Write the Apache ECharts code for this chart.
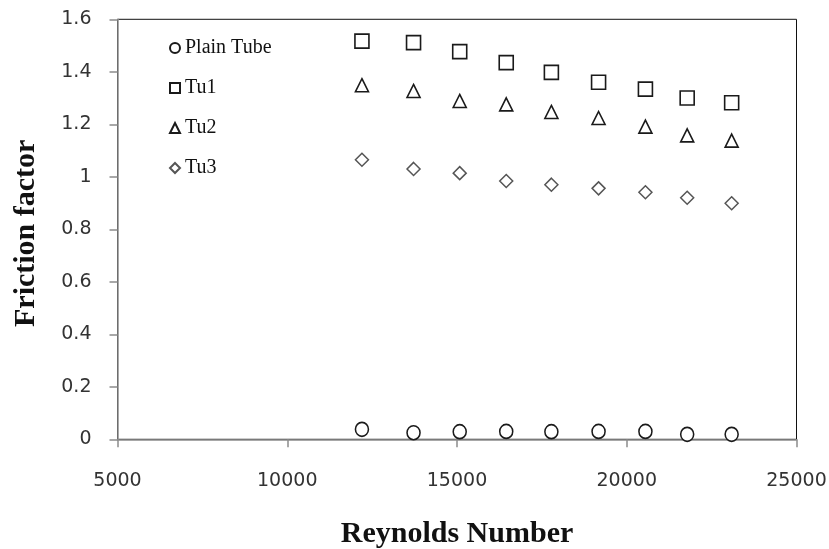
<!DOCTYPE html>
<html>
<head>
<meta charset="utf-8">
<script src="https://cdn.jsdelivr.net/npm/echarts@6/dist/echarts.min.js"></script>
<style>
  html, body { margin: 0; padding: 0; background: #fff; }
  #chart { width: 829px; height: 549px; }
</style>
</head>
<body>
<div id="chart"></div>
<script>
// Reynolds numbers of the measured runs
const reynolds = [12200, 13720, 15080, 16450, 17780, 19170, 20550, 21780, 23090];

// Friction factor for each tube configuration
const plainTube = [0.038, 0.025, 0.029, 0.030, 0.029, 0.030, 0.030, 0.019, 0.019];
const tu1 = [1.517, 1.511, 1.477, 1.435, 1.398, 1.360, 1.334, 1.300, 1.282];
const tu2 = [1.349, 1.327, 1.289, 1.276, 1.247, 1.224, 1.191, 1.158, 1.138];
const tu3 = [1.065, 1.030, 1.014, 0.984, 0.970, 0.956, 0.941, 0.920, 0.899];

const seriesNames = ['Plain Tube', 'Tu1', 'Tu2', 'Tu3'];

function pairs(ys) {
  return reynolds.map((x, i) => [x, ys[i]]);
}

const chart = echarts.init(document.getElementById('chart'), null, { renderer: 'canvas' });

const serifFont = '"Liberation Serif", "DejaVu Serif", serif';
const sansFont = '"DejaVu Sans", Verdana, sans-serif';

function scatter(name, ys, symbol, size, stroke, width) {
  return {
    name: name,
    type: 'scatter',
    data: pairs(ys),
    symbol: symbol,
    symbolSize: size,
    itemStyle: { color: '#fff', borderColor: stroke, borderWidth: width, opacity: 1 },
    emphasis: { disabled: true },
    z: 5
  };
}

chart.setOption({
  animation: false,
  backgroundColor: '#fff',
  grid: {
    left: 117.5, right: 32.5, top: 19.3, bottom: 109.7,
    outerBoundsMode: 'none',
    containLabel: false,
    show: true, borderColor: '#111', borderWidth: 1, backgroundColor: 'transparent'
  },
  legend: {
    orient: 'vertical',
    left: 169,
    top: 38,
    padding: 0,
    itemWidth: 10,
    itemHeight: 10,
    itemGap: 20,
    data: seriesNames,
    textStyle: { fontFamily: serifFont, fontSize: 20, color: '#111', lineHeight: 20 }
  },
  xAxis: {
    type: 'value',
    min: 5000, max: 25000, interval: 5000,
    name: 'Reynolds Number',
    nameLocation: 'middle',
    nameGap: 80,
    nameTextStyle: { fontFamily: serifFont, fontWeight: 'bold', fontSize: 30, color: '#111' },
    axisLine: { show: true, onZero: false, lineStyle: { color: '#8c8c8c', width: 1.5 } },
    axisTick: { show: true, inside: false, length: 8, lineStyle: { color: '#8c8c8c', width: 1.5 } },
    axisLabel: {
      margin: 32, fontFamily: sansFont, fontSize: 19, color: '#333',
      formatter: (v) => String(v)
    },
    splitLine: { show: false }
  },
  yAxis: {
    type: 'value',
    min: 0, max: 1.6, interval: 0.2,
    name: 'Friction factor',
    nameLocation: 'middle',
    nameGap: 76,
    nameTextStyle: {
      fontFamily: serifFont, fontWeight: 'bold', fontSize: 30, color: '#111',
      padding: [0, 8, 0, 0]
    },
    axisLine: { show: true, onZero: false, lineStyle: { color: '#8c8c8c', width: 1.5 } },
    axisTick: { show: true, inside: false, length: 8, lineStyle: { color: '#8c8c8c', width: 1.5 } },
    axisLabel: { margin: 26, fontFamily: sansFont, fontSize: 19, color: '#333' },
    splitLine: { show: false }
  },
  series: [
    scatter('Plain Tube', plainTube, 'circle', [13, 14], '#1a1a1a', 1.6),
    scatter('Tu1', tu1, 'rect', 14, '#1a1a1a', 1.6),
    scatter('Tu2', tu2, 'triangle', [13, 13], '#1a1a1a', 1.6),
    scatter('Tu3', tu3, 'diamond', [13, 13], '#555', 1.5)
  ]
});
</script>
</body>
</html>
